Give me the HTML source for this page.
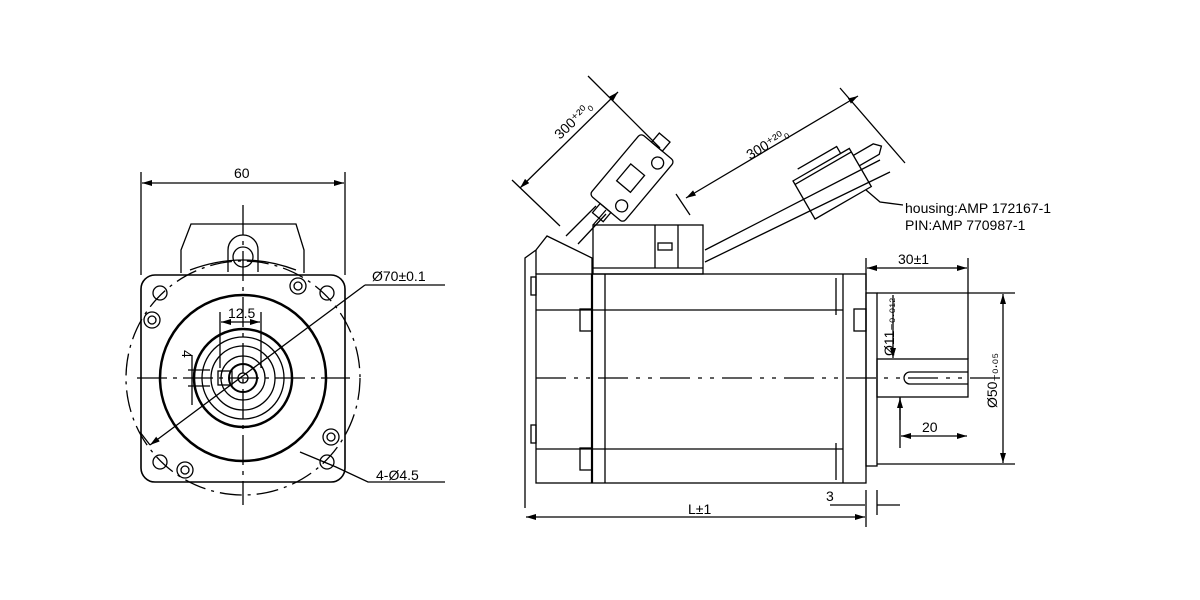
<!DOCTYPE html>
<html><head><style>body{margin:0;background:#fff}svg{display:block}text{font-family:"Liberation Sans",sans-serif;font-size:14px;fill:#000}</style></head><body>
<svg width="1200" height="600" viewBox="0 0 1200 600" xmlns="http://www.w3.org/2000/svg">
<defs><marker id="a" markerWidth="10" markerHeight="6" refX="10" refY="3" orient="auto-start-reverse" markerUnits="userSpaceOnUse"><path d="M0,0 L10,3 L0,6z" fill="#000"/></marker></defs>
<g stroke="#000" fill="none" stroke-width="1.3">
<!-- FRONT VIEW -->
<line x1="141" y1="172" x2="141" y2="275"/><line x1="345" y1="172" x2="345" y2="275"/>
<line x1="142" y1="183" x2="344" y2="183" marker-start="url(#a)" marker-end="url(#a)"/>
<rect x="141" y="275" width="204" height="207" rx="14" stroke-width="1.6"/>
<path d="M181 273 L181 250 L191 224 L296 224 L304 250 L304 273"/>
<path d="M190 270 Q243 250 296 270"/>
<path d="M228 272 V250 A15 15 0 0 1 258 250 V272"/><circle cx="243" cy="257" r="10"/>
<circle cx="243" cy="378" r="83" stroke-width="2.5"/>
<circle cx="243" cy="378" r="49" stroke-width="2.5"/>
<circle cx="243" cy="378" r="41"/><circle cx="243" cy="378" r="32"/><circle cx="243" cy="378" r="22"/><circle cx="243" cy="378" r="14" stroke-width="2"/><circle cx="243" cy="378" r="5"/>
<rect x="218" y="371" width="14" height="14"/>
<circle cx="243" cy="378" r="117" stroke-dasharray="22,6,3,6"/>
<line x1="243" y1="205" x2="243" y2="505" stroke-dasharray="30,6,4,6"/>
<line x1="137" y1="378" x2="350" y2="378" stroke-dasharray="30,6,4,6"/>
<circle cx="160" cy="293" r="7"/><circle cx="327" cy="293" r="7"/><circle cx="160" cy="462" r="7"/><circle cx="327" cy="462" r="7"/>
<circle cx="152" cy="320" r="8"/><circle cx="152" cy="320" r="4"/>
<circle cx="298" cy="286" r="8"/><circle cx="298" cy="286" r="4"/>
<circle cx="331" cy="437" r="8"/><circle cx="331" cy="437" r="4"/>
<circle cx="185" cy="470" r="8"/><circle cx="185" cy="470" r="4"/>
<line x1="220" y1="312" x2="220" y2="368"/><line x1="261" y1="312" x2="261" y2="368"/>
<line x1="221" y1="322" x2="260" y2="322" marker-start="url(#a)" marker-end="url(#a)"/>
<line x1="188" y1="370" x2="210" y2="370"/><line x1="188" y1="386" x2="210" y2="386"/>
<line x1="192" y1="355" x2="192" y2="405"/>
<line x1="150" y1="445" x2="365" y2="285" marker-start="url(#a)"/>
<path d="M150 445 L140 432"/>
<line x1="365" y1="285" x2="445" y2="285"/>
<path d="M300 452 L336 467 L368 482 L445 482"/>
<!-- SIDE VIEW -->
<rect x="536" y="274" width="330" height="209"/>
<line x1="592" y1="274" x2="592" y2="483" stroke-width="2.2"/><line x1="605" y1="274" x2="605" y2="483"/>
<line x1="843" y1="274" x2="843" y2="483"/><line x1="836" y1="278" x2="836" y2="315"/><line x1="836" y1="443" x2="836" y2="480"/>
<line x1="536" y1="310" x2="843" y2="310"/><line x1="536" y1="449" x2="843" y2="449"/>
<rect x="580" y="309" width="12" height="22"/><rect x="580" y="448" width="12" height="22"/>
<rect x="854" y="309" width="12" height="22"/>
<path d="M536 250 L525 258 L525 508 M536 250 L536 274"/>
<rect x="531" y="277" width="5" height="18"/><rect x="531" y="425" width="5" height="18"/>
<path d="M536 250 L547 236 L592 258 L592 274"/>
<rect x="593" y="225" width="110" height="49"/><path d="M593 268 H703"/>
<line x1="655" y1="225" x2="655" y2="268"/><line x1="678" y1="225" x2="678" y2="268"/><rect x="658" y="243" width="14" height="7"/>
<path d="M593 225 L606 210"/>
<rect x="866" y="293" width="11" height="173"/>
<rect x="877" y="359" width="91" height="38"/>
<path d="M968 372 H910 A6 6 0 0 0 910 384 H968"/>
<line x1="536" y1="378" x2="1000" y2="378" stroke-dasharray="30,8,4,8,4,8"/>
<!-- cables -->
<path d="M566 236 L596 206 M578 244 L606 214"/>
<path d="M705 250 L880 160 M705 262 L890 172"/>
<g transform="translate(632,178) rotate(-50)"><rect x="-40" y="-22" width="80" height="44" rx="4"/><rect x="-12" y="-10" width="22" height="18"/><circle cx="-28" cy="10" r="6"/><circle cx="28" cy="10" r="6"/><rect x="-52" y="-8" width="12" height="14"/><rect x="40" y="-8" width="12" height="14"/></g>
<g transform="translate(830,185) rotate(-30)"><rect x="-30" y="-22" width="65" height="44"/><path d="M-30 -18 H35"/><path d="M35 -14 H58 L64 -8 L58 -2 H35"/><path d="M-20 -30 H25 V-22"/></g>
<!-- dims side -->
<path d="M512 180 L560 226 M588 76 L660 148 M676 194 L690 215 M840 88 L905 163"/>
<line x1="520" y1="188" x2="618" y2="92" marker-start="url(#a)" marker-end="url(#a)"/>
<line x1="686" y1="198" x2="858" y2="96" marker-start="url(#a)" marker-end="url(#a)"/>
<path d="M866 190 L880 202 L903 205"/>
<line x1="866" y1="258" x2="866" y2="290"/><line x1="968" y1="258" x2="968" y2="359"/>
<line x1="867" y1="268" x2="967" y2="268" marker-start="url(#a)" marker-end="url(#a)"/>
<line x1="877" y1="293" x2="1015" y2="293"/><line x1="877" y1="464" x2="1015" y2="464"/>
<line x1="1003" y1="294" x2="1003" y2="463" marker-start="url(#a)" marker-end="url(#a)"/>
<line x1="900" y1="397" x2="900" y2="448"/>
<line x1="901" y1="436" x2="967" y2="436" marker-start="url(#a)" marker-end="url(#a)"/>
<line x1="893" y1="295" x2="893" y2="358" marker-end="url(#a)"/><line x1="900" y1="420" x2="900" y2="398" marker-end="url(#a)"/>
<line x1="866" y1="490" x2="866" y2="527"/><line x1="877" y1="490" x2="877" y2="515"/>
<line x1="526" y1="517" x2="865" y2="517" marker-start="url(#a)" marker-end="url(#a)"/>
<path d="M830 505 H865 M877 505 H900"/>
</g>
<g font-size="14">
<text x="234" y="178">60</text>
<text x="372" y="281">Ø70±0.1</text>
<text x="228" y="318">12.5</text>
<text x="182" y="350" transform="rotate(90 182 350)">4</text>
<text x="376" y="480">4-Ø4.5</text>
<text x="560" y="140" transform="rotate(-44 560 140)">300⁺²⁰₀</text>
<text x="750" y="160" transform="rotate(-31 750 160)">300⁺²⁰₀</text>
<text x="905" y="213">housing:AMP 172167-1</text>
<text x="905" y="230">PIN:AMP 770987-1</text>
<text x="898" y="264">30±1</text>
<text x="894" y="356" transform="rotate(-90 894 356)">Ø11₋₀.₀₁₂</text>
<text x="997" y="408" transform="rotate(-90 997 408)">Ø50₋₀.₀₅</text>
<text x="922" y="432">20</text>
<text x="826" y="501">3</text>
<text x="688" y="514">L±1</text>
</g>
</svg>
</body></html>
